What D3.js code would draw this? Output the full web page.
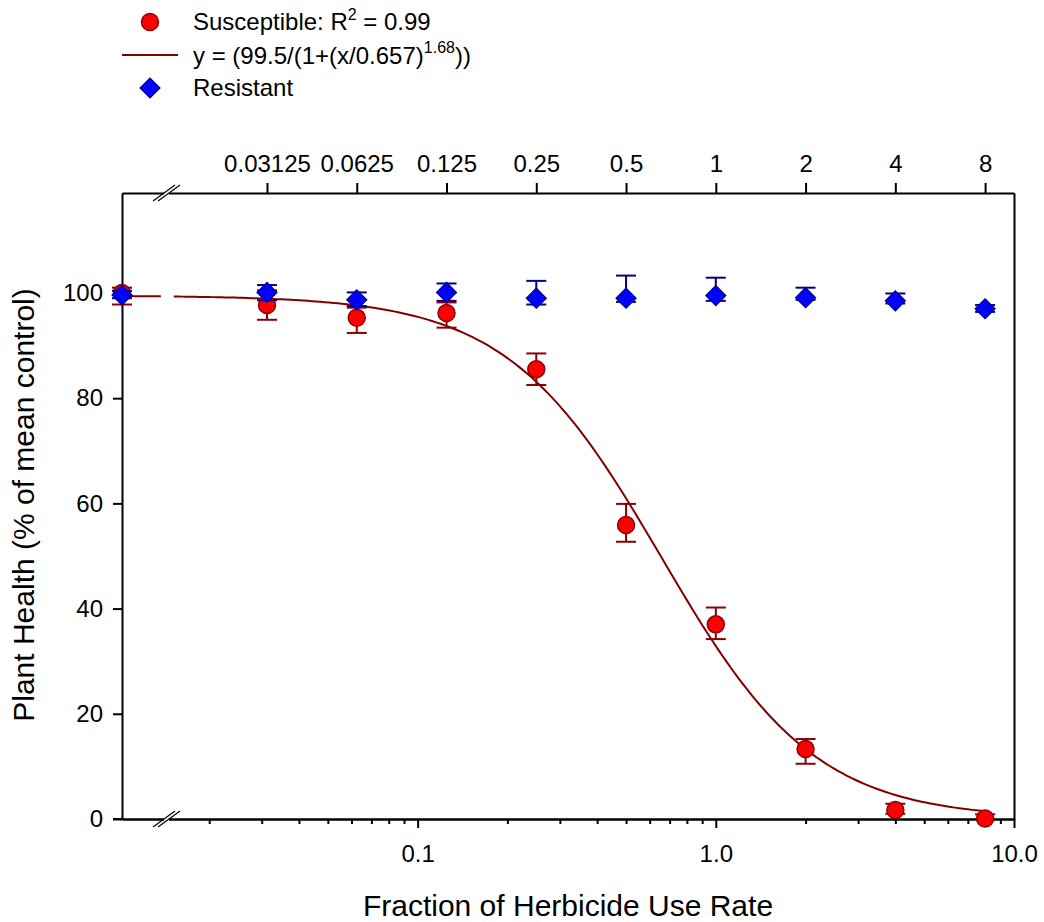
<!DOCTYPE html>
<html>
<head>
<meta charset="utf-8">
<script src="https://cdn.jsdelivr.net/npm/d3@7"></script>
<style>
  body { margin: 0; background: #fff; }
  svg text { font-family: "Liberation Sans", Arial, sans-serif; fill: #000; }
</style>
</head>
<body>
<div id="chart"></div>
<script>
// dose levels (fraction of use rate); the control is drawn at the axis start
var doses = [0, 0.03125, 0.0625, 0.125, 0.25, 0.5, 1, 2, 4, 8];
var doseLabels = ["", "0.03125", "0.0625", "0.125", "0.25", "0.5", "1", "2", "4", "8"];

// susceptible biotype (mean, upper and lower error bar ends)
var susMean = [100.0, 97.7, 95.3, 96.2, 85.5, 55.9, 37.0, 13.3, 1.7, 0.1];
var susHi   = [101.0, 100.5, 97.2, 98.2, 88.5, 59.9, 40.2, 15.2, 2.9, 0.9];
var susLo   = [97.8, 94.9, 92.4, 93.4, 82.5, 52.7, 34.2, 10.5, 1.0, 0.0];

// resistant biotype
var resMean = [99.6, 100.1, 98.7, 100.1, 99.0, 99.0, 99.5, 99.1, 98.5, 97.0];
var resHi   = [100.4, 101.5, 100.1, 101.8, 102.3, 103.3, 102.9, 101.0, 99.9, 97.7];
var resLo   = [99.0, 98.6, 97.5, 98.5, 97.8, 98.3, 98.5, 98.7, 98.0, 96.4];

// fitted curve parameters (from the legend)
var fitTop = 99.5, fitEC50 = 0.657, fitSlope = 1.68;

var yTicks = [0, 20, 40, 60, 80, 100];
var xMajor = [0.1, 1, 10];
var xMajorLabels = ["0.1", "1.0", "10.0"];
var xMinor = [0.02, 0.03, 0.04, 0.05, 0.06, 0.07, 0.08, 0.09,
              0.2, 0.3, 0.4, 0.5, 0.6, 0.7, 0.8, 0.9,
              2, 3, 4, 5, 6, 7, 8, 9];

function draw() {
    var W = 1044, H = 922;
    var mLeft = 122, mRight = 1014, mTop = 193, mBottom = 819;
    var xMin = 0.0102;
    var breakLo = 0.0138, breakHi = 0.0150;

    var red = "#ff0000", darkRed = "#8b0000", blue = "#0000ff", navy = "#00008b";

    var svg = d3.select("#chart").append("svg")
        .attr("width", W)
        .attr("height", H);

    var x = d3.scaleLog().domain([xMin, 10]).range([mLeft, mRight]);
    var y = d3.scaleLinear().domain([0, 119]).range([mBottom, mTop]);

    function px(d) { return d === 0 ? x(xMin) : x(d); }

    // axes
    svg.append("g").attr("transform", "translate(" + mLeft + ",0)")
        .call(d3.axisLeft(y).tickValues(yTicks).tickSize(9).tickSizeOuter(0).tickPadding(10));
    svg.append("g").attr("transform", "translate(" + mRight + ",0)")
        .call(d3.axisRight(y).tickValues([]).tickSizeOuter(0));
    svg.append("g").attr("transform", "translate(0," + mTop + ")")
        .call(d3.axisTop(x).tickValues(doses.slice(1))
            .tickFormat(function (d, i) { return doseLabels[i + 1]; })
            .tickSize(10).tickSizeOuter(0).tickPadding(11));
    svg.append("g").attr("transform", "translate(0," + mBottom + ")")
        .call(d3.axisBottom(x).tickValues(xMinor).tickFormat("").tickSize(5).tickSizeOuter(0));
    svg.append("g").attr("transform", "translate(0," + mBottom + ")")
        .call(d3.axisBottom(x).tickValues(xMajor)
            .tickFormat(function (d, i) { return xMajorLabels[i]; })
            .tickSize(9).tickSizeOuter(0).tickPadding(17));

    svg.selectAll(".domain, .tick line").attr("stroke", "#000").attr("stroke-width", 2);
    svg.selectAll(".tick text").style("font-size", "24px").attr("fill", "#000");

    // small extension of the bottom line past the left axis
    svg.append("line")
        .attr("x1", mLeft - 9).attr("x2", mLeft)
        .attr("y1", mBottom).attr("y2", mBottom)
        .attr("stroke", "#000").attr("stroke-width", 2);

    // axis break marks
    [mTop, mBottom].forEach(function (yy) {
        var bx = x(Math.sqrt(breakLo * breakHi));
        svg.append("rect")
            .attr("x", bx - 2.5).attr("y", yy - 2).attr("width", 5).attr("height", 4)
            .attr("fill", "#fff");
        [-2.5, 2.5].forEach(function (dx) {
            svg.append("line")
                .attr("x1", bx + dx - 11).attr("y1", yy + 8)
                .attr("x2", bx + dx + 11).attr("y2", yy - 8)
                .attr("stroke", "#000").attr("stroke-width", 1.2);
        });
    });

    // fitted curve
    var curveX = d3.range(0, 201).map(function (i) {
        return Math.pow(10, Math.log10(xMin) + i * (Math.log10(8) - Math.log10(xMin)) / 200);
    });
    var line = d3.line()
        .defined(function (d) { return d < breakLo || d > breakHi; })
        .x(function (d) { return x(d); })
        .y(function (d) { return y(fitTop / (1 + Math.pow(d / fitEC50, fitSlope))); });
    svg.append("path")
        .datum(curveX)
        .attr("d", line)
        .attr("fill", "none")
        .attr("stroke", "#800000")
        .attr("stroke-width", 2);

    function errorBars(hi, lo, color) {
        var g = svg.append("g").attr("stroke", color).attr("stroke-width", 2);
        doses.forEach(function (d, i) {
            var cx = px(d);
            g.append("line").attr("x1", cx).attr("x2", cx).attr("y1", y(hi[i])).attr("y2", y(lo[i]));
            g.append("line").attr("x1", cx - 10).attr("x2", cx + 10).attr("y1", y(hi[i])).attr("y2", y(hi[i]));
            g.append("line").attr("x1", cx - 10).attr("x2", cx + 10).attr("y1", y(lo[i])).attr("y2", y(lo[i]));
        });
    }

    // susceptible
    errorBars(susHi, susLo, darkRed);
    svg.append("g").selectAll("circle")
        .data(doses)
        .enter()
        .append("circle")
        .attr("cx", function (d) { return px(d); })
        .attr("cy", function (d, i) { return y(susMean[i]); })
        .attr("r", 8.5)
        .attr("fill", red)
        .attr("stroke", darkRed)
        .attr("stroke-width", 1.5);

    // resistant
    errorBars(resHi, resLo, navy);
    var diamond = d3.symbol().type(d3.symbolSquare).size(200);
    svg.append("g").selectAll("path")
        .data(doses)
        .enter()
        .append("path")
        .attr("d", diamond)
        .attr("transform", function (d, i) {
            return "translate(" + px(d) + "," + y(resMean[i]) + ") rotate(45)";
        })
        .attr("fill", blue)
        .attr("stroke", navy)
        .attr("stroke-width", 1.2);

    // axis titles
    svg.append("text")
        .attr("x", 568)
        .attr("y", 916)
        .attr("text-anchor", "middle")
        .style("font-size", "30px")
        .text("Fraction of Herbicide Use Rate");
    svg.append("text")
        .attr("transform", "translate(34,505) rotate(-90)")
        .attr("text-anchor", "middle")
        .style("font-size", "30px")
        .text("Plant Health (% of mean control)");

    // legend
    var lg = svg.append("g");
    lg.append("circle").attr("cx", 150).attr("cy", 22).attr("r", 8.5)
        .attr("fill", red).attr("stroke", darkRed).attr("stroke-width", 1.5);
    var t1 = lg.append("text").attr("x", 193).attr("y", 30).style("font-size", "24px");
    t1.append("tspan").text("Susceptible: R");
    t1.append("tspan").attr("dy", -10).style("font-size", "16px").text("2");
    t1.append("tspan").attr("dy", 10).text(" = 0.99");

    lg.append("line").attr("x1", 122).attr("x2", 178).attr("y1", 55).attr("y2", 55)
        .attr("stroke", "#800000").attr("stroke-width", 2);
    var t2 = lg.append("text").attr("x", 193).attr("y", 64).style("font-size", "24px");
    t2.append("tspan").text("y = (99.5/(1+(x/0.657)");
    t2.append("tspan").attr("dy", -11).style("font-size", "16px").text("1.68");
    t2.append("tspan").attr("dy", 11).text("))");

    lg.append("path").attr("d", diamond)
        .attr("transform", "translate(150,88) rotate(45)")
        .attr("fill", blue).attr("stroke", navy).attr("stroke-width", 1.2);
    lg.append("text").attr("x", 193).attr("y", 96).style("font-size", "24px").text("Resistant");
}

draw();
</script>
</body>
</html>
